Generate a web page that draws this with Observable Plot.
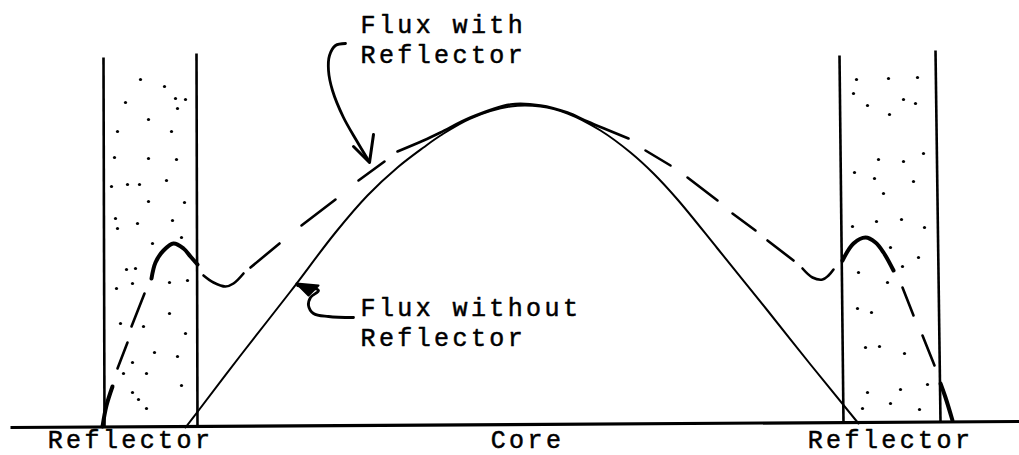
<!DOCTYPE html>
<html>
<head>
<meta charset="utf-8">
<script src="https://cdn.jsdelivr.net/npm/d3@7"></script>
<script src="https://cdn.jsdelivr.net/npm/@observablehq/plot@0.6"></script>
<style>
html, body { margin: 0; padding: 0; background: #fff; }
#chart svg text { letter-spacing: 3.4px; }
</style>
</head>
<body>
<div id="chart"></div>
<script>
// Position across the reactor (x) and relative neutron flux (f).
// Flux without reflector (solid cosine-like curve)
const fluxWithout = [
  [185,-2],[195,11],[240,70],[290,134],[335,193],[367,230],[397,258],[423,278],[440,290],
  [470,307],[510,319],[540,319],[567,312],[600,295],[630,273],[653,252],[677,226],
  [717,177],[767,115],[810,61],[858,2]
];

// Flux with reflector: hand-drawn dashes (thin pieces)
const withReflectorDashes = [
  [[117,57],[127,83]],
  [[131,99],[144,132]],
  [[203,150],[213,143],[225,139],[233,142],[243,152]],
  [[250,158],[279,182]],
  [[301,200],[335,226]],
  [[358,245],[384,264]],
  [[397,274],[423,285],[440,293],[470,308],[510,321],[540,320],[567,313],[587,304],[628,287]],
  [[645,275],[670,260]],
  [[687,248],[717,225]],
  [[732,212],[755,195]],
  [[767,185],[793,165]],
  [[802,157],[812,148],[822,146],[828,150],[833,156]],
  [[902,138],[913,110]],
  [[922,90],[934,60]]
];
// Flux with reflector: heavier strokes inside the reflectors
const withReflectorHeavy = [
  [[102,-1],[106,20],[112,39]],
  [[151,147],[155,163],[163,175],[173,182],[183,177],[190,169],[197,161]],
  [[842,165],[853,182],[865,188],[875,183],[883,173],[893,155]],
  [[940,42],[945,28],[952,5]]
];

// Reflector walls [x top, f top, x bottom, f bottom]
const reflectorWalls = [
  [103,368,104,-2],[196,372,197,-2],
  [839,370,843,3],[935,375,940,4]
];
const baselineSeg = [[10,-2,1019,4]];

// Stippling of the reflector material
const leftReflectorDots = [
  [140,346],[164,339],[125,323],[175,327],[185,326],[177,317],[148,306],[117,294],[171,294],
  [114,268],[148,267],[176,266],[111,239],[127,241],[139,241],[166,245],[148,224],[184,223],
  [115,207],[117,197],[137,202],[172,205],[181,188],[152,182],[126,156],[135,157],[187,145],
  [116,137],[132,142],[169,143],[120,102],[143,99],[169,112],[185,92],[154,73],[177,69],
  [132,63],[123,52],[146,52],[181,40],[132,33],[138,26],[146,17]
];
const rightReflectorDots = [
  [856,346],[888,347],[917,348],[853,332],[867,320],[889,311],[903,326],[915,322],[878,266],
  [903,264],[923,272],[854,253],[874,247],[913,244],[883,232],[852,199],[876,204],[901,206],
  [924,198],[890,178],[918,168],[902,159],[858,153],[887,143],[857,117],[871,113],[865,78],
  [879,79],[904,72],[867,33],[900,36],[927,41],[890,22],[919,16],[862,17]
];

// Annotation arrows
const arrowWithPath = [[345,382],[335,380],[329,370],[328,355],[332,335],[343,308],[356,285],[368,265]];
const arrowWithHead = [[353,279],[369,263],[373,291]];
const arrowWithoutPath = [[353,108],[328,109],[313,112],[308,120],[310,128],[318,135],[297,140]];
const arrowWithoutHead = [[318,140],[296,142],[308,130],[318,140]];

// Labels [x, f, text]
const annotations = [
  [360,363,"Flux with\nReflector"],
  [360,80,"Flux without\nReflector"]
];
const regionLabels = [
  [130,-22,"Reflector"],
  [527,-22,"Core"],
  [890,-22,"Reflector"]
];

const toPts = (arr) => arr.map(([x, f]) => ({x, f}));
const toSegs = (segs) => segs.flatMap((s, i) => s.map(([x, f]) => ({seg: i, x, f})));
const toLinks = (arr) => arr.map(([x1, f1, x2, f2]) => ({x1, f1, x2, f2}));

const textStyle = {fontFamily: "Liberation Mono", fontSize: 25, fill: "#000", stroke: "#000", strokeWidth: 0.5};

const chart = Plot.plot({
  width: 1019,
  height: 455,
  margin: 0,
  x: {domain: [0, 1019], range: [0, 1019], axis: null},
  y: {domain: [-30, 425], range: [455, 0], axis: null},
  style: {background: "#fff"},
  marks: [
    Plot.link(toLinks(reflectorWalls), {x1: "x1", y1: "f1", x2: "x2", y2: "f2", stroke: "#000", strokeWidth: 2.6}),
    Plot.link(toLinks(baselineSeg), {x1: "x1", y1: "f1", x2: "x2", y2: "f2", stroke: "#000", strokeWidth: 3.2}),
    Plot.dot(toPts(leftReflectorDots.concat(rightReflectorDots)), {x: "x", y: "f", r: 1.6, fill: "#000", stroke: "none"}),
    Plot.line(toPts(fluxWithout), {x: "x", y: "f", curve: "catmull-rom", stroke: "#000", strokeWidth: 2}),
    Plot.line(toSegs(withReflectorDashes), {x: "x", y: "f", z: "seg", curve: "catmull-rom", stroke: "#000", strokeWidth: 2.6, strokeLinecap: "round"}),
    Plot.line(toSegs(withReflectorHeavy), {x: "x", y: "f", z: "seg", curve: "catmull-rom", stroke: "#000", strokeWidth: 4, strokeLinecap: "round"}),
    Plot.line(toPts(arrowWithPath), {x: "x", y: "f", curve: "catmull-rom", stroke: "#000", strokeWidth: 2.8, strokeLinecap: "round"}),
    Plot.line(toPts(arrowWithHead), {x: "x", y: "f", stroke: "#000", strokeWidth: 3, strokeLinecap: "round", strokeLinejoin: "round"}),
    Plot.line(toPts(arrowWithoutPath), {x: "x", y: "f", curve: "catmull-rom", stroke: "#000", strokeWidth: 2.8, strokeLinecap: "round"}),
    Plot.line(toPts(arrowWithoutHead), {x: "x", y: "f", stroke: "#000", fill: "#000", strokeWidth: 2, strokeLinejoin: "round"}),
    Plot.text(annotations.map(([x, f, t]) => ({x, f, t})), {
      x: "x", y: "f", text: "t", textAnchor: "start", lineAnchor: "bottom", lineHeight: 1.18, ...textStyle
    }),
    Plot.text(regionLabels.map(([x, f, t]) => ({x, f, t})), {
      x: "x", y: "f", text: "t", textAnchor: "middle", lineAnchor: "bottom", ...textStyle
    })
  ]
});
document.getElementById("chart").appendChild(chart);
</script>
</body>
</html>
